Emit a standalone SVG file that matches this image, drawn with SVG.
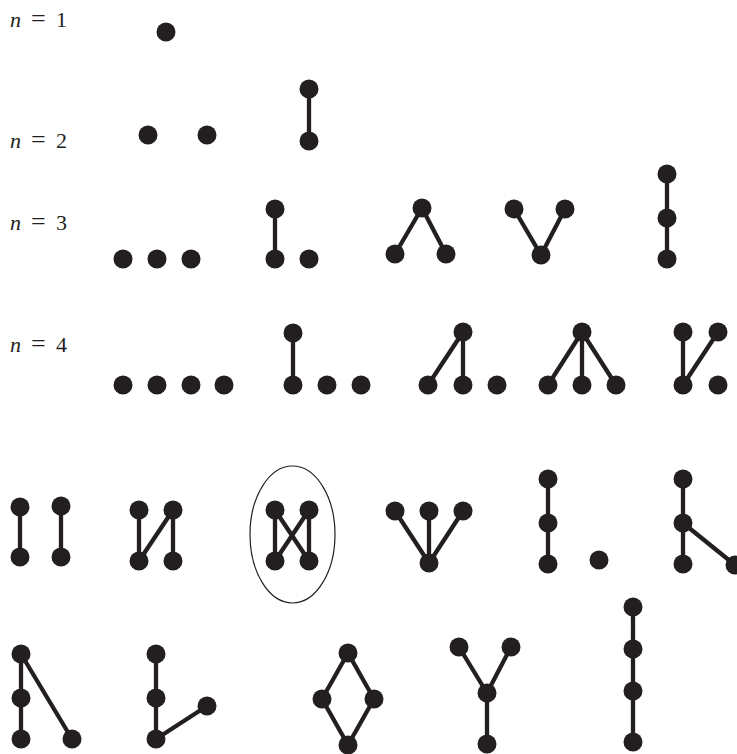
<svg xmlns="http://www.w3.org/2000/svg" width="737" height="754" viewBox="0 0 737 754">
<style>
.v{fill:#231f20}
.e{stroke:#231f20;stroke-width:4.3;fill:none}
.ring{fill:none;stroke:#231f20;stroke-width:1.2}
</style>
<rect width="737" height="754" fill="#ffffff"/>
<g id="labels" font-family="'Liberation Serif', 'Times New Roman', serif" font-size="22" fill="#231f20">
<text y="27"><tspan font-style="italic" x="10">n</tspan><tspan x="31" font-size="26">=</tspan><tspan x="56">1</tspan></text>
<text y="148"><tspan font-style="italic" x="10">n</tspan><tspan x="31" font-size="26">=</tspan><tspan x="56">2</tspan></text>
<text y="230"><tspan font-style="italic" x="10">n</tspan><tspan x="31" font-size="26">=</tspan><tspan x="56">3</tspan></text>
<text y="352"><tspan font-style="italic" x="10">n</tspan><tspan x="31" font-size="26">=</tspan><tspan x="56">4</tspan></text>
</g>
<ellipse id="highlight" class="ring" cx="292.5" cy="534.5" rx="42.5" ry="68.5"/>
<g id="connectors" class="e">
<line x1="309" y1="89" x2="309" y2="141"/>
<line x1="275" y1="209" x2="275" y2="259"/>
<line x1="422" y1="208" x2="395" y2="254"/>
<line x1="422" y1="208" x2="446" y2="254"/>
<line x1="514" y1="209" x2="541" y2="255"/>
<line x1="565" y1="209" x2="541" y2="255"/>
<line x1="667" y1="174" x2="667" y2="259"/>
<line x1="293" y1="333" x2="293" y2="385"/>
<line x1="463" y1="332" x2="428" y2="385"/>
<line x1="463" y1="332" x2="463" y2="385"/>
<line x1="582" y1="332" x2="548" y2="385"/>
<line x1="582" y1="332" x2="582" y2="385"/>
<line x1="582" y1="332" x2="616" y2="385"/>
<line x1="683" y1="332" x2="683" y2="385"/>
<line x1="718" y1="332" x2="683" y2="385"/>
<line x1="20" y1="507" x2="20" y2="557"/>
<line x1="61" y1="506" x2="61" y2="557"/>
<line x1="139" y1="510" x2="139" y2="561"/>
<line x1="173" y1="510" x2="139" y2="561"/>
<line x1="173" y1="510" x2="173" y2="561"/>
<line x1="275" y1="510" x2="275" y2="561"/>
<line x1="309" y1="510" x2="309" y2="561"/>
<line x1="275" y1="510" x2="309" y2="561"/>
<line x1="309" y1="510" x2="275" y2="561"/>
<line x1="395" y1="511" x2="429" y2="563"/>
<line x1="429" y1="511" x2="429" y2="563"/>
<line x1="463" y1="511" x2="429" y2="563"/>
<line x1="548" y1="479" x2="548" y2="564"/>
<line x1="683" y1="479" x2="683" y2="564"/>
<line x1="683" y1="523" x2="735" y2="565"/>
<line x1="21" y1="654" x2="21" y2="739"/>
<line x1="21" y1="654" x2="72" y2="739"/>
<line x1="156" y1="654" x2="156" y2="739"/>
<line x1="156" y1="739" x2="207" y2="706"/>
<line x1="348" y1="653" x2="322" y2="699"/>
<line x1="348" y1="653" x2="374" y2="699"/>
<line x1="322" y1="699" x2="348" y2="745"/>
<line x1="374" y1="699" x2="348" y2="745"/>
<line x1="459" y1="647" x2="487" y2="693"/>
<line x1="511" y1="647" x2="487" y2="693"/>
<line x1="487" y1="693" x2="487" y2="744"/>
<line x1="633" y1="607" x2="633" y2="742"/>
</g>
<g class="v">
<g id="g1a"><circle cx="166" cy="32" r="9.5"/></g>
<g id="g2a"><circle cx="148" cy="135" r="9.5"/><circle cx="207" cy="135" r="9.5"/></g>
<g id="g2b"><circle cx="309" cy="89" r="9.5"/><circle cx="309" cy="141" r="9.5"/></g>
<g id="g3a"><circle cx="123" cy="259" r="9.5"/><circle cx="157" cy="259" r="9.5"/><circle cx="191" cy="259" r="9.5"/></g>
<g id="g3b"><circle cx="275" cy="209" r="9.5"/><circle cx="275" cy="259" r="9.5"/><circle cx="309" cy="259" r="9.5"/></g>
<g id="g3c"><circle cx="422" cy="208" r="9.5"/><circle cx="395" cy="254" r="9.5"/><circle cx="446" cy="254" r="9.5"/></g>
<g id="g3d"><circle cx="514" cy="209" r="9.5"/><circle cx="565" cy="209" r="9.5"/><circle cx="541" cy="255" r="9.5"/></g>
<g id="g3e"><circle cx="667" cy="174" r="9.5"/><circle cx="667" cy="218" r="9.5"/><circle cx="667" cy="259" r="9.5"/></g>
<g id="g4a"><circle cx="123" cy="385" r="9.5"/><circle cx="157" cy="385" r="9.5"/><circle cx="191" cy="385" r="9.5"/><circle cx="224" cy="385" r="9.5"/></g>
<g id="g4b"><circle cx="293" cy="333" r="9.5"/><circle cx="293" cy="385" r="9.5"/><circle cx="327" cy="385" r="9.5"/><circle cx="361" cy="385" r="9.5"/></g>
<g id="g4c"><circle cx="463" cy="332" r="9.5"/><circle cx="428" cy="385" r="9.5"/><circle cx="463" cy="385" r="9.5"/><circle cx="497" cy="385" r="9.5"/></g>
<g id="g4d"><circle cx="582" cy="332" r="9.5"/><circle cx="548" cy="385" r="9.5"/><circle cx="582" cy="385" r="9.5"/><circle cx="616" cy="385" r="9.5"/></g>
<g id="g4e"><circle cx="683" cy="332" r="9.5"/><circle cx="718" cy="332" r="9.5"/><circle cx="683" cy="385" r="9.5"/><circle cx="718" cy="385" r="9.5"/></g>
<g id="g4f"><circle cx="20" cy="507" r="9.5"/><circle cx="20" cy="557" r="9.5"/><circle cx="61" cy="506" r="9.5"/><circle cx="61" cy="557" r="9.5"/></g>
<g id="g4g"><circle cx="139" cy="510" r="9.5"/><circle cx="173" cy="510" r="9.5"/><circle cx="139" cy="561" r="9.5"/><circle cx="173" cy="561" r="9.5"/></g>
<g id="g4h"><circle cx="275" cy="510" r="9.5"/><circle cx="309" cy="510" r="9.5"/><circle cx="275" cy="561" r="9.5"/><circle cx="309" cy="561" r="9.5"/></g>
<g id="g4i"><circle cx="395" cy="511" r="9.5"/><circle cx="429" cy="511" r="9.5"/><circle cx="463" cy="511" r="9.5"/><circle cx="429" cy="563" r="9.5"/></g>
<g id="g4j"><circle cx="548" cy="479" r="9.5"/><circle cx="548" cy="523" r="9.5"/><circle cx="548" cy="564" r="9.5"/><circle cx="599" cy="560" r="9.5"/></g>
<g id="g4k"><circle cx="683" cy="479" r="9.5"/><circle cx="683" cy="523" r="9.5"/><circle cx="683" cy="564" r="9.5"/><circle cx="735" cy="565" r="9.5"/></g>
<g id="g4l"><circle cx="21" cy="654" r="9.5"/><circle cx="21" cy="698" r="9.5"/><circle cx="21" cy="739" r="9.5"/><circle cx="72" cy="739" r="9.5"/></g>
<g id="g4m"><circle cx="156" cy="654" r="9.5"/><circle cx="156" cy="698" r="9.5"/><circle cx="156" cy="739" r="9.5"/><circle cx="207" cy="706" r="9.5"/></g>
<g id="g4n"><circle cx="348" cy="653" r="9.5"/><circle cx="322" cy="699" r="9.5"/><circle cx="374" cy="699" r="9.5"/><circle cx="348" cy="745" r="9.5"/></g>
<g id="g4o"><circle cx="459" cy="647" r="9.5"/><circle cx="511" cy="647" r="9.5"/><circle cx="487" cy="693" r="9.5"/><circle cx="487" cy="744" r="9.5"/></g>
<g id="g4p"><circle cx="633" cy="607" r="9.5"/><circle cx="633" cy="649" r="9.5"/><circle cx="633" cy="691" r="9.5"/><circle cx="633" cy="742" r="9.5"/></g>
</g>
</svg>
